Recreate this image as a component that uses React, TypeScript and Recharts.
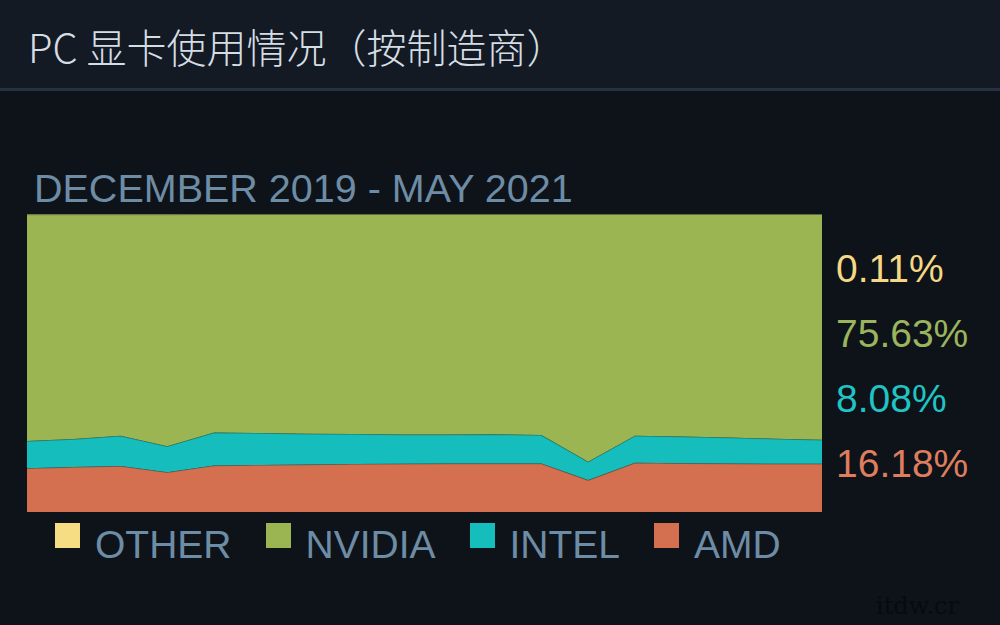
import React from "react";
import { AreaChart, Area, XAxis, YAxis } from "recharts";

const MONTHS = [
  "Dec 2019", "Jan 2020", "Feb 2020", "Mar 2020", "Apr 2020", "May 2020",
  "Jun 2020", "Jul 2020", "Aug 2020", "Sep 2020", "Oct 2020", "Nov 2020",
  "Dec 2020", "Jan 2021", "Feb 2021", "Mar 2021", "Apr 2021", "May 2021",
];

const AMD = [14.7, 15.1, 15.4, 13.3, 15.6, 15.8, 15.9, 16.1, 16.2, 16.3, 16.3, 16.3, 10.7, 16.5, 16.4, 16.3, 16.2, 16.18];
const INTEL = [9.1, 9.4, 10.2, 8.8, 11.1, 10.7, 10.4, 10.1, 9.8, 9.7, 9.8, 9.5, 6.2, 9.1, 8.9, 8.7, 8.4, 8.08];
const NVIDIA = [76.0, 75.3, 74.2, 77.7, 73.2, 73.4, 73.6, 73.7, 73.9, 73.9, 73.8, 74.1, 83.0, 74.3, 74.6, 74.9, 75.3, 75.63];
const OTHER = [0.2, 0.2, 0.2, 0.2, 0.1, 0.1, 0.1, 0.1, 0.1, 0.1, 0.1, 0.1, 0.1, 0.1, 0.1, 0.1, 0.1, 0.11];

// legend order (left to right)
const SERIES = [
  { key: "OTHER", fill: "#f6dc83", label: "#f4d885" },
  { key: "NVIDIA", fill: "#9bb553", label: "#9ab55d" },
  { key: "INTEL", fill: "#15bdbd", label: "#20c4c4" },
  { key: "AMD", fill: "#d4704f", label: "#de7e5e" },
];

const data = MONTHS.map((m, i) => ({
  month: m,
  AMD: AMD[i],
  INTEL: INTEL[i],
  NVIDIA: NVIDIA[i],
  OTHER: OTHER[i],
}));

const last = data[data.length - 1];
const SANS = '"Liberation Sans", Arial, sans-serif';

export default function App() {
  // stacking order bottom -> top
  const stack = ["AMD", "INTEL", "NVIDIA", "OTHER"];
  const fillOf = (k: string) => SERIES.find((s) => s.key === k)!.fill;

  return (
    <div style={{ position: "fixed", left: 0, top: 0, width: 1000, height: 625, background: "#0e1319", overflow: "hidden" }}>
      <div style={{ position: "absolute", left: 0, top: 0, width: 1000, height: 88, background: "#131a24" }} />
      <div style={{ position: "absolute", left: 0, top: 88, width: 1000, height: 3, background: "#263241" }} />
      <div
        style={{
          position: "absolute", left: 28, top: 26, fontFamily: '"Noto Sans CJK SC", sans-serif',
          fontSize: 40, fontWeight: 300, lineHeight: 1, color: "#d5dde4", whiteSpace: "nowrap",
        }}
      >
        PC 显卡使用情况（按制造商）
      </div>
      <div
        style={{
          position: "absolute", left: 34, top: 169, fontFamily: SANS, fontSize: 39.5,
          lineHeight: 1, color: "#6d8ca5", whiteSpace: "nowrap",
        }}
      >
        DECEMBER 2019 - MAY 2021
      </div>

      <div style={{ position: "absolute", left: 27, top: 214 }}>
        <AreaChart width={795} height={298} data={data} stackOffset="expand" margin={{ top: 0, right: 0, bottom: 0, left: 0 }}>
          <XAxis dataKey="month" hide />
          <YAxis hide domain={[0, 1]} />
          {stack.map((k) => (
            <Area
              key={k}
              type="linear"
              dataKey={k}
              stackId="1"
              fill={fillOf(k)}
              fillOpacity={1}
              stroke="rgba(20,40,30,0.35)"
              strokeWidth={1.5}
              isAnimationActive={false}
            />
          ))}
        </AreaChart>
      </div>

      {SERIES.map((s, i) => (
        <div
          key={s.key}
          style={{
            position: "absolute", left: 836, top: 249 + i * 65, fontFamily: SANS, fontSize: 39,
            lineHeight: 1, color: s.label, whiteSpace: "nowrap",
          }}
        >
          {(last as any)[s.key].toFixed(2)}%
        </div>
      ))}

      <div style={{ position: "absolute", left: 55, top: 523, display: "flex", alignItems: "flex-start", fontFamily: SANS, fontSize: 39, lineHeight: 1, color: "#6d8ca5" }}>
        {SERIES.map((s) => (
          <div key={s.key} style={{ display: "flex", alignItems: "flex-start", marginRight: 34 }}>
            <div style={{ width: 25, height: 25, background: s.fill, marginRight: 15 }} />
            <div style={{ marginTop: 2 }}>{s.key}</div>
          </div>
        ))}
      </div>

      <div style={{ position: "absolute", left: 876, top: 592, fontFamily: '"DejaVu Serif", serif', fontSize: 24, color: "#070a0e" }}>
        itdw.cr
      </div>
    </div>
  );
}
